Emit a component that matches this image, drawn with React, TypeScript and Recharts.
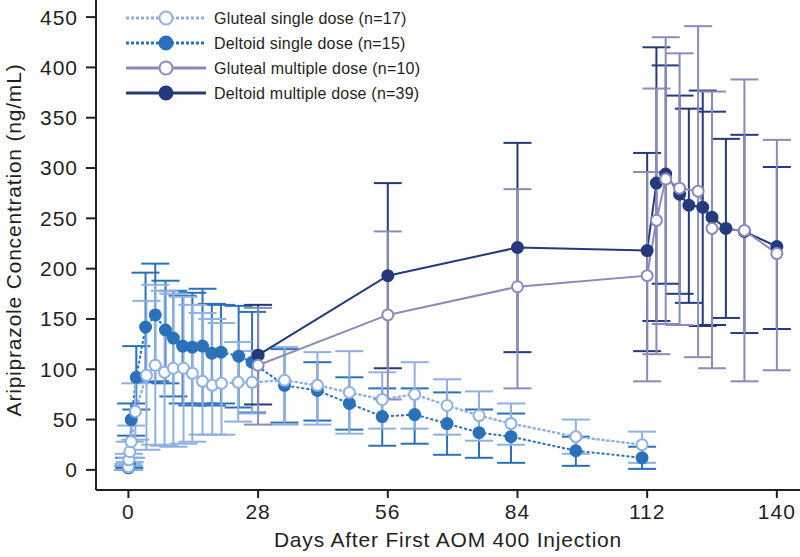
import React from 'react';
import { LineChart, Line, XAxis, YAxis, ErrorBar, Legend } from 'recharts';

const C_GS = '#8fb0e2';
const C_DS = '#2b71b9';
const C_GM = '#8a8bb8';
const C_DM = '#243a7c';
const INK = '#231f20';
const FONT = '"Liberation Sans", Arial, Helvetica, sans-serif';

const xTicks = [0, 28, 56, 84, 112, 140];
const yTicks = [0, 50, 100, 150, 200, 250, 300, 350, 400, 450];

const legendLabels = [
  'Gluteal single dose (n=17)',
  'Deltoid single dose (n=15)',
  'Gluteal multiple dose (n=10)',
  'Deltoid multiple dose (n=39)',
];

// Gluteal single dose
const gsDays = [0, 0.1, 0.3, 0.6, 1.5, 3.9, 5.8, 7.8, 9.7, 11.9, 13.8, 16, 18.1, 20.1, 23.7, 26.7, 33.7, 40.8, 47.7, 54.8, 61.8, 68.8, 75.7, 82.6, 96.6, 110.9];
const gsMean = [3, 10, 18, 28, 58, 94, 104, 97, 101, 101, 96, 88, 84, 86, 87, 87, 89, 84, 77, 70, 75, 64, 54, 46, 33, 25];
const gsLow = [0, 4, 8, 12, 30, 20, 25, 24, 23, 26, 28, 35, 35, 35, 48, 56, 45, 45, 36, 41, 41, 35, 29, 25, 16, 7];
const gsHigh = [6, 16, 28, 44, 86, 168, 184, 178, 175, 172, 164, 156, 150, 146, 127, 118, 122, 117, 118, 97, 107, 90, 78, 66, 50, 38];

// Deltoid single dose
const dsDays = [0, 0.2, 0.6, 1.7, 3.7, 5.8, 8, 9.7, 11.7, 13.8, 16, 18, 20, 23.8, 26.7, 33.7, 40.8, 47.7, 54.8, 61.8, 68.8, 75.7, 82.6, 96.6, 110.9];
const dsMean = [2, 6, 50, 92, 142, 154, 139, 131, 123, 122, 123, 116, 117, 113, 107, 84, 79, 66, 53, 55, 46, 37, 33, 19, 12];
const dsLow = [0, 2, 34, 60, 87, 88, 86, 73, 66, 64, 66, 64, 66, 62, 57, 47, 49, 40, 24, 26, 15, 12, 7, 4, 1];
const dsHigh = [4, 12, 66, 123, 196, 205, 188, 178, 173, 176, 180, 165, 164, 163, 157, 120, 107, 92, 81, 81, 77, 60, 56, 33, 23];

// Gluteal multiple dose
const gmDays = [28, 56, 84, 112, 114, 116, 119, 123, 126, 133, 140];
const gmMean = [104, 154, 182, 193, 248, 289, 280, 277, 240, 238, 215];
const gmLow = [45, 70, 81, 88, 115, 145, 144, 112, 101, 88, 99];
const gmHigh = [161, 237, 279, 296, 379, 430, 414, 441, 376, 388, 328];

// Deltoid multiple dose
const dmDays = [28, 56, 84, 112, 114, 116, 119, 121, 124, 126, 129, 133, 140];
const dmMean = [114, 193, 221, 218, 285, 294, 274, 263, 261, 251, 240, 237, 222];
const dmLow = [65, 101, 117, 118, 148, 185, 175, 166, 143, 144, 151, 136, 140];
const dmHigh = [164, 285, 325, 315, 420, 402, 372, 359, 377, 356, 329, 333, 301];

function build(days: number[], mean: number[], low: number[], high: number[]) {
  return days.map((d, i) => ({ x: d, y: mean[i], err: [mean[i] - low[i], high[i] - mean[i]] }));
}

const gsData = build(gsDays, gsMean, gsLow, gsHigh);
const dsData = build(dsDays, dsMean, dsLow, dsHigh);
const gmData = build(gmDays, gmMean, gmLow, gmHigh);
const dmData = build(dmDays, dmMean, dmLow, dmHigh);

const makeDot = (color: string, open: boolean, tag: string) => (props: any) => {
  const { cx, cy, index } = props;
  if (cx == null || cy == null) return <g key={`${tag}-${index}`} />;
  return (
    <circle
      key={`${tag}-${index}`}
      cx={cx}
      cy={cy}
      r={5.5}
      fill={open ? '#ffffff' : color}
      stroke={color}
      strokeWidth={2}
    />
  );
};

const LegendBox = () => {
  const rows = [
    { color: C_GS, dash: '3 2', open: true },
    { color: C_DS, dash: '3 2', open: false },
    { color: C_GM, dash: undefined, open: true },
    { color: C_DM, dash: undefined, open: false },
  ];
  return (
    <svg width={320} height={100} style={{ display: 'block', overflow: 'visible' }}>
      {rows.map((r, i) => {
        const y = 14 + i * 25;
        return (
          <g key={i}>
            <line x1={6} x2={86} y1={y} y2={y} stroke={r.color} strokeWidth={3} strokeDasharray={r.dash} />
            <circle cx={46} cy={y} r={6.5} fill={r.open ? '#ffffff' : r.color} stroke={r.color} strokeWidth={2} />
            <text x={94} y={y} dominantBaseline="central" fontSize={16} fontFamily={FONT} fill={INK} style={{ letterSpacing: '0.2px' }}>
              {legendLabels[i]}
            </text>
          </g>
        );
      })}
    </svg>
  );
};

const XTitle = () => (
  <text x={448} y={547} textAnchor="middle" fontSize={21} fontFamily={FONT} fill={INK} style={{ letterSpacing: '0.8px' }}>
    Days After First AOM 400 Injection
  </text>
);

const YTitle = () => (
  <text x={21} y={240} transform="rotate(-90, 21, 240)" textAnchor="middle" fontSize={21} fontFamily={FONT} fill={INK} style={{ letterSpacing: '0.8px' }}>
    Aripiprazole Concentration (ng/mL)
  </text>
);

export default function App() {
  const tickStyle = { fill: INK, fontSize: 21, fontFamily: FONT, style: { letterSpacing: '1px' } };
  return (
    <div style={{ position: 'absolute', left: 0, top: 0, width: 800, height: 557, background: '#fff' }}>
      <LineChart width={800} height={557} margin={{ top: 0, right: 0, bottom: 0, left: 0 }}>
        <XAxis
          type="number"
          dataKey="x"
          domain={[-7, 145]}
          allowDataOverflow
          ticks={xTicks}
          interval={0}
          height={67}
          tickSize={8}
          tickMargin={6}
          axisLine={{ stroke: INK, strokeWidth: 2 }}
          tickLine={{ stroke: INK, strokeWidth: 2 }}
          tick={tickStyle}
          label={<XTitle />}
        />
        <YAxis
          type="number"
          domain={[-20, 467]}
          allowDataOverflow
          ticks={yTicks}
          interval={0}
          width={96}
          tickSize={10}
          tickMargin={8}
          axisLine={{ stroke: INK, strokeWidth: 2 }}
          tickLine={{ stroke: INK, strokeWidth: 2 }}
          tick={tickStyle}
          label={<YTitle />}
        />
        <Legend
          verticalAlign="middle"
          align="center"
          layout="horizontal"
          wrapperStyle={{ top: 4, left: 120, width: 320, height: 100 }}
          content={() => <LegendBox />}
        />
        <Line
          data={dsData}
          dataKey="y"
          type="linear"
          stroke={C_DS}
          strokeWidth={2}
          strokeDasharray="3 2"
          dot={makeDot(C_DS, false, 'ds')}
          activeDot={false}
          isAnimationActive={false}
          legendType="none"
        >
          <ErrorBar dataKey="err" direction="y" width={14} stroke={C_DS} strokeWidth={2} isAnimationActive={false} />
        </Line>
        <Line
          data={gsData}
          dataKey="y"
          type="linear"
          stroke={C_GS}
          strokeWidth={2}
          strokeDasharray="3 2"
          dot={makeDot(C_GS, true, 'gs')}
          activeDot={false}
          isAnimationActive={false}
          legendType="none"
        >
          <ErrorBar dataKey="err" direction="y" width={14} stroke={C_GS} strokeWidth={2} isAnimationActive={false} />
        </Line>
        <Line
          data={gsData}
          dataKey="y"
          type="linear"
          stroke={C_GS}
          strokeWidth={2}
          strokeDasharray="3 2"
          dot={false}
          activeDot={false}
          isAnimationActive={false}
          legendType="none"
        />
        <Line
          data={dmData}
          dataKey="y"
          type="linear"
          stroke={C_DM}
          strokeWidth={2}
          dot={makeDot(C_DM, false, 'dm')}
          activeDot={false}
          isAnimationActive={false}
          legendType="none"
        >
          <ErrorBar dataKey="err" direction="y" width={14} stroke={C_DM} strokeWidth={2} isAnimationActive={false} />
        </Line>
        <Line
          data={gmData}
          dataKey="y"
          type="linear"
          stroke={C_GM}
          strokeWidth={2}
          dot={makeDot(C_GM, true, 'gm')}
          activeDot={false}
          isAnimationActive={false}
          legendType="none"
        >
          <ErrorBar dataKey="err" direction="y" width={14} stroke={C_GM} strokeWidth={2} isAnimationActive={false} />
        </Line>
      </LineChart>
    </div>
  );
}
